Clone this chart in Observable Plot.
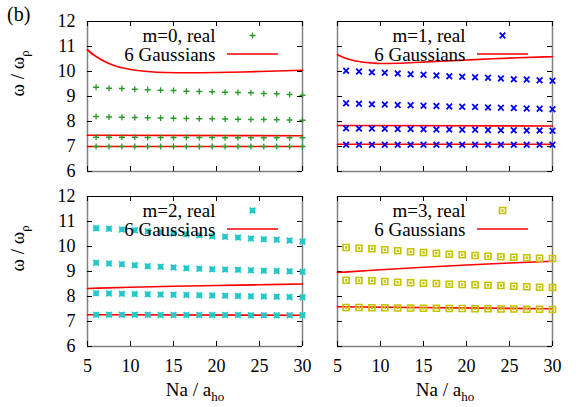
<!DOCTYPE html>
<html><head><meta charset="utf-8">
<script src="https://cdn.jsdelivr.net/npm/d3@7"></script>
<script src="https://cdn.jsdelivr.net/npm/@observablehq/plot@0.6"></script>
<style>
body{margin:0;background:#fff;}
#wrap{position:relative;width:581px;height:407px;overflow:hidden;font-family:"Liberation Serif","Times New Roman",serif;}
#wrap svg{position:absolute;}
#wrap svg text{font-family:"Liberation Serif","Times New Roman",serif !important;}
#tag{position:absolute;left:7px;top:4px;font-size:20px;line-height:1;font-family:"Liberation Serif","Times New Roman",serif;}
</style></head><body><div id="wrap"><div id="tag">(b)</div></div>
<script>
// ---------- data ----------
const xTicks = [5, 10, 15, 20, 25, 30];
const yTicks = [6, 7, 8, 9, 10, 11, 12];
const xSample = [6, 7.5, 9, 10.5, 12, 13.5, 15, 16.5, 18, 19.5, 21, 22.5, 24, 25.5, 27, 28.5, 30];
const legendLabels = ["m=0, real", "m=1, real", "m=2, real", "m=3, real"];
const gaussLabel = "6 Gaussians";
const xLabel = "Na / a_ho";
const yLabel = "ω / ω_ρ";

// "real" values, m = 0
const m0Real1 = [9.37, 9.33, 9.32, 9.29, 9.27, 9.25, 9.24, 9.21, 9.20, 9.19, 9.17, 9.16, 9.15, 9.12, 9.11, 9.08, 9.05];
const m0Real2 = [8.20, 8.18, 8.17, 8.16, 8.15, 8.14, 8.13, 8.12, 8.11, 8.11, 8.10, 8.09, 8.08, 8.08, 8.07, 8.06, 8.05];
const m0Real3 = [7.37, 7.37, 7.37, 7.37, 7.36, 7.36, 7.36, 7.36, 7.36, 7.36, 7.35, 7.35, 7.35, 7.35, 7.35, 7.35, 7.35];
const m0Real4 = [7.00, 7.00, 7.00, 7.00, 7.00, 7.00, 7.00, 7.00, 7.00, 7.00, 7.00, 7.00, 7.00, 7.00, 7.00, 7.00, 7.00];
// m = 1
const m1Real1 = [10.03, 10.00, 9.97, 9.95, 9.92, 9.89, 9.87, 9.84, 9.81, 9.79, 9.77, 9.75, 9.72, 9.69, 9.68, 9.65, 9.63];
const m1Real2 = [8.73, 8.71, 8.69, 8.68, 8.66, 8.65, 8.63, 8.62, 8.60, 8.59, 8.58, 8.56, 8.55, 8.54, 8.52, 8.51, 8.49];
const m1Real3 = [7.73, 7.72, 7.72, 7.71, 7.70, 7.70, 7.69, 7.68, 7.68, 7.67, 7.67, 7.66, 7.65, 7.65, 7.64, 7.64, 7.63];
const m1Real4 = [7.07, 7.07, 7.07, 7.07, 7.07, 7.07, 7.07, 7.07, 7.07, 7.07, 7.07, 7.07, 7.07, 7.07, 7.07, 7.07, 7.07];
// m = 2
const m2Real1 = [10.73, 10.71, 10.68, 10.65, 10.61, 10.57, 10.53, 10.49, 10.45, 10.41, 10.39, 10.36, 10.32, 10.29, 10.27, 10.24, 10.20];
const m2Real2 = [9.35, 9.32, 9.29, 9.25, 9.21, 9.19, 9.16, 9.13, 9.11, 9.09, 9.08, 9.07, 9.05, 9.03, 9.02, 9.01, 8.99];
const m2Real3 = [8.13, 8.12, 8.11, 8.10, 8.09, 8.08, 8.07, 8.06, 8.05, 8.04, 8.03, 8.02, 8.01, 8.00, 7.99, 7.98, 7.97];
const m2Real4 = [7.27, 7.27, 7.27, 7.27, 7.27, 7.26, 7.26, 7.26, 7.26, 7.26, 7.26, 7.26, 7.25, 7.25, 7.25, 7.25, 7.25];
// m = 3
const m3Real1 = [9.96, 9.93, 9.91, 9.87, 9.83, 9.79, 9.76, 9.73, 9.69, 9.67, 9.64, 9.61, 9.59, 9.57, 9.55, 9.53, 9.52];
const m3Real2 = [8.65, 8.64, 8.63, 8.60, 8.57, 8.55, 8.53, 8.52, 8.49, 8.48, 8.47, 8.45, 8.44, 8.41, 8.39, 8.37, 8.36];
const m3Real3 = [7.56, 7.56, 7.55, 7.55, 7.54, 7.54, 7.53, 7.53, 7.52, 7.52, 7.51, 7.51, 7.50, 7.50, 7.49, 7.49, 7.48];

// "6 Gaussians" curves
const m0GaussX1 = [5, 5.5, 6, 7, 8, 9, 10, 12, 14, 17, 20, 23, 26, 30];
const m0Gauss1  = [10.87, 10.72, 10.60, 10.40, 10.25, 10.15, 10.08, 10.00, 9.96, 9.95, 9.96, 9.98, 10.01, 10.05];
const m0GaussX2 = [5, 30];
const m0Gauss2  = [7.45, 7.43];
const m0Gauss3  = [7.00, 7.00];
const m1GaussX1 = [5, 6, 7, 8, 9, 10, 12, 14, 17, 20, 23, 26, 30];
const m1Gauss1  = [10.67, 10.52, 10.43, 10.37, 10.34, 10.32, 10.33, 10.36, 10.41, 10.46, 10.51, 10.55, 10.59];
const m1GaussX2 = [5, 30];
const m1Gauss2  = [7.84, 7.82];
const m1Gauss3  = [7.09, 7.09];
const m2GaussX1 = [5, 10, 15, 20, 25, 30];
const m2Gauss1  = [8.32, 8.37, 8.41, 8.44, 8.47, 8.50];
const m2GaussX2 = [5, 30];
const m2Gauss2  = [7.27, 7.25];
const m3GaussX1 = [5, 10, 15, 20, 25, 30];
const m3Gauss1  = [8.96, 9.07, 9.17, 9.26, 9.34, 9.41];
const m3GaussX2 = [5, 30];
const m3Gauss2  = [7.59, 7.51];

// ---------- symbols (gnuplot-like) ----------
const rad = s => Math.sqrt(s / Math.PI);
const symPlus = {draw(c, s) {const r = rad(s); c.moveTo(-r, 0); c.lineTo(r, 0); c.moveTo(0, -r); c.lineTo(0, r);}};
const symTimes = {draw(c, s) {const r = rad(s); c.moveTo(-r, -r); c.lineTo(r, r); c.moveTo(-r, r); c.lineTo(r, -r);}};
const symStar = {draw(c, s) {const r = rad(s); c.moveTo(-r, 0); c.lineTo(r, 0); c.moveTo(0, -r); c.lineTo(0, r);
  c.moveTo(-r, -r); c.lineTo(r, r); c.moveTo(-r, r); c.lineTo(r, -r);}};
const symBox = {draw(c, s) {const r = rad(s); c.rect(-r, -r, 2 * r, 2 * r); c.rect(-0.3, -0.3, 0.6, 0.6);}};

const RED = "#ff0000";
const SERIF = "'Liberation Serif', 'Times New Roman', serif";

const panels = [
  {label: legendLabels[0], real: [m0Real1, m0Real2, m0Real3, m0Real4], color: "#2a9a2a", symbol: symPlus, r: 3, sw: 1.3,
   gauss: [[m0GaussX1, m0Gauss1], [m0GaussX2, m0Gauss2], [m0GaussX2, m0Gauss3]],
   left: 0, top: 0, width: 310, height: 180, ml: 87, mr: 8, mt: 21, mb: 9, showY: true, showX: false},
  {label: legendLabels[1], real: [m1Real1, m1Real2, m1Real3, m1Real4], color: "#0000ff", symbol: symTimes, r: 2.8, sw: 1.8,
   gauss: [[m1GaussX1, m1Gauss1], [m1GaussX2, m1Gauss2], [m1GaussX2, m1Gauss3]],
   left: 310, top: 0, width: 271, height: 180, ml: 27, mr: 29, mt: 21, mb: 9, showY: false, showX: false},
  {label: legendLabels[2], real: [m2Real1, m2Real2, m2Real3, m2Real4], color: "#22c8c8", symbol: symStar, r: 2.8, sw: 1.8,
   gauss: [[m2GaussX1, m2Gauss1], [m2GaussX2, m2Gauss2]],
   left: 0, top: 180, width: 310, height: 227, ml: 87, mr: 8, mt: 16, mb: 61, showY: true, showX: true},
  {label: legendLabels[3], real: [m3Real1, m3Real2, m3Real3], color: "#c4c400", symbol: symBox, r: 3, sw: 1.7,
   gauss: [[m3GaussX1, m3Gauss1], [m3GaussX2, m3Gauss2]],
   left: 310, top: 180, width: 271, height: 227, ml: 27, mr: 29, mt: 16, mb: 61, showY: false, showX: true}
];

function subscriptify(svg) {
  svg.querySelectorAll("text").forEach(t => {
    t.setAttribute("font-family", SERIF);
    const s = t.textContent;
    if (t.children.length === 0 && s.includes("_")) {
      const [main, sub] = s.split("_");
      t.textContent = main;
      const ts = document.createElementNS("http://www.w3.org/2000/svg", "tspan");
      ts.setAttribute("dy", "5");
      ts.setAttribute("font-size", "13px");
      ts.textContent = sub;
      t.appendChild(ts);
    }
  });
}

const wrap = document.getElementById("wrap");
for (const p of panels) {
  const fw = p.width - p.ml - p.mr, fh = p.height - p.mt - p.mb;
  const realRows = p.real.flatMap((ys, k) => ys.map((y, i) => ({x: xSample[i], y, s: k})));
  const gaussRows = p.gauss.flatMap(([xs, ys], k) => ys.map((y, i) => ({x: xs[i], y, s: k})));
  const legendLine = (index, scales, values, dims) => {
    const l = document.createElementNS("http://www.w3.org/2000/svg", "line");
    l.setAttribute("x1", dims.marginLeft + 140); l.setAttribute("x2", dims.marginLeft + 191);
    l.setAttribute("y1", dims.marginTop + 33); l.setAttribute("y2", dims.marginTop + 33);
    l.setAttribute("stroke", RED); l.setAttribute("stroke-width", 1.7);
    return l;
  };
  const marks = [
    Plot.ruleX([5, 30], {stroke: "#808080", strokeWidth: 1.5}),
    Plot.ruleY([6], {stroke: "#808080", strokeWidth: 1.5}),
    Plot.ruleY([12], {stroke: "#000"}),
    Plot.tickY(yTicks, {y: d => d, insetRight: fw - 5, stroke: "#000"}),
    Plot.tickY(yTicks, {y: d => d, insetLeft: fw - 5, stroke: "#000"}),
    Plot.tickX(xTicks, {x: d => d, insetBottom: fh - 5, stroke: "#000"}),
    Plot.tickX(xTicks, {x: d => d, insetTop: fh - 5, stroke: "#000"}),
    Plot.line(gaussRows, {x: "x", y: "y", z: "s", stroke: RED, strokeWidth: 1.7, curve: "monotone-x"}),
    Plot.dot(realRows, {x: "x", y: "y", symbol: p.symbol, r: p.r, stroke: p.color, strokeWidth: p.sw, fill: "none"}),
    Plot.text([p.label], {text: d => d, frameAnchor: "top-left", dx: 128, dy: 20, textAnchor: "end", lineAnchor: "bottom", fontSize: 19, fontFamily: SERIF}),
    Plot.text([gaussLabel], {text: d => d, frameAnchor: "top-left", dx: 128, dy: 39, textAnchor: "end", lineAnchor: "bottom", fontSize: 19, fontFamily: SERIF}),
    Plot.dot([0], {frameAnchor: "top-left", dx: 165, dy: 14, symbol: p.symbol, r: p.r, stroke: p.color, strokeWidth: p.sw, fill: "none"}),
    legendLine
  ];
  if (p.showX) marks.push(Plot.text([xLabel], {text: d => d, frameAnchor: "bottom", dy: 49, lineAnchor: "bottom", fontSize: 19, fontFamily: SERIF}));
  if (p.showY) marks.push(Plot.text([yLabel], {text: d => d, frameAnchor: "left", dx: -64, rotate: -90, lineAnchor: "bottom", fontSize: 19, fontFamily: SERIF}));
  const svg = Plot.plot({
    width: p.width, height: p.height,
    marginLeft: p.ml, marginRight: p.mr, marginTop: p.mt, marginBottom: p.mb,
    style: {fontFamily: SERIF, fontSize: "18px", color: "#000", background: "transparent", overflow: "visible"},
    x: {domain: [5, 30], ticks: xTicks, tickFormat: d => String(d), tickSize: 0, tickPadding: 13, label: null, axis: p.showX ? "bottom" : null},
    y: {domain: [6, 12], ticks: yTicks, tickFormat: d => String(d), tickSize: 0, tickPadding: 12, label: null, axis: p.showY ? "left" : null},
    marks
  });
  svg.style.left = p.left + "px";
  svg.style.top = p.top + "px";
  subscriptify(svg);
  wrap.appendChild(svg);
}
</script>
</body></html>
